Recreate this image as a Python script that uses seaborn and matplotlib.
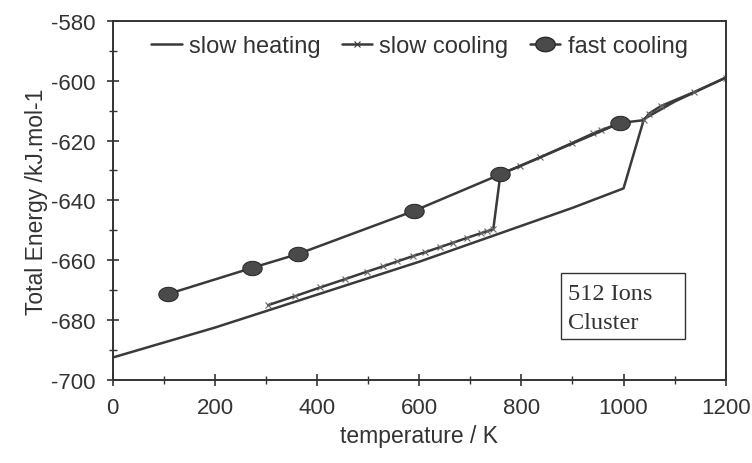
import numpy as np
import pandas as pd
import matplotlib
matplotlib.use("Agg")
import matplotlib.pyplot as plt
import matplotlib.ticker as mtick
from matplotlib.path import Path
from matplotlib.lines import Line2D
from matplotlib.patches import Rectangle
import seaborn as sns

# values
heat_T = [0, 100, 200, 300, 400, 500, 600, 700, 800, 900, 1000, 1040, 1100, 1200]
heat_E = [-692.5, -687.5, -682.5, -677.0, -671.5, -666.0, -660.5, -654.5,
          -648.5, -642.5, -636.0, -612.8, -607.0, -599.0]

cool_T = [304, 357, 406, 455, 498, 530, 557, 588, 612, 641, 667, 694, 720, 733, 745,
          759, 798, 837, 900, 941, 955, 995, 1040, 1050, 1073, 1137, 1200]
cool_E = [-675.0, -672.0, -669.1, -666.3, -663.8, -662.0, -660.4, -658.6, -657.3,
          -655.6, -654.1, -652.5, -651.0, -650.3, -649.6,
          -631.2, -628.5, -625.6, -620.8, -617.6, -616.6, -614.1, -613.2, -611.0,
          -608.5, -603.9, -599.0]

fast_T = [108, 272, 363, 590, 759, 994]
fast_E = [-671.3, -662.6, -657.9, -643.5, -631.3, -614.1]

heat = pd.DataFrame({"T": heat_T, "E": heat_E})
cool = pd.DataFrame({"T": cool_T, "E": cool_E})
fast = pd.DataFrame({"T": fast_T, "E": fast_E})

sns.set_style("white")
plt.rcParams["font.family"] = ["Liberation Sans", "DejaVu Sans"]
plt.rcParams["axes.unicode_minus"] = False

line_col = "#3a3a3a"
txt_col = "#333333"
t = np.linspace(0, 2 * np.pi, 40)
ellipse = Path(np.column_stack([1.35 * np.cos(t), np.sin(t)]))

fig = plt.figure(figsize=(7.52, 4.64), dpi=100)
ax = fig.add_axes([0.150, 0.179, 0.815, 0.774])

sns.lineplot(data=heat, x="T", y="E", ax=ax, sort=False, estimator=None,
             color=line_col, linewidth=1.8)
sns.lineplot(data=cool, x="T", y="E", ax=ax, sort=False, estimator=None,
             color=line_col, linewidth=1.8, marker="x", markersize=4,
             markeredgewidth=0.8, markeredgecolor="#666666")
sns.lineplot(data=fast, x="T", y="E", ax=ax, sort=False, estimator=None,
             color=line_col, linewidth=1.8, marker=ellipse, markersize=14,
             markerfacecolor="#4a4a4a", markeredgecolor="#2a2a2a")

ax.set_xlim(0, 1200)
ax.set_ylim(-700, -580)
ax.xaxis.set_major_locator(mtick.MultipleLocator(200))
ax.xaxis.set_minor_locator(mtick.MultipleLocator(100))
ax.yaxis.set_major_locator(mtick.MultipleLocator(20))
ax.yaxis.set_minor_locator(mtick.MultipleLocator(10))
ax.tick_params(which="major", direction="inout", length=9, width=1.2,
               color=txt_col, labelsize=16, labelcolor=txt_col, pad=8)
ax.tick_params(which="minor", direction="inout", length=6, width=1.0,
               color=txt_col)
ax.tick_params(axis="x", which="both", bottom=True)
ax.tick_params(axis="y", which="both", left=True)

for s in ax.spines.values():
    s.set_color(txt_col)
    s.set_linewidth(1.4)

ax.set_xlabel("temperature / K", fontsize=16.5, color=txt_col, labelpad=4)
ax.set_ylabel("Total Energy /kJ.mol-1", fontsize=16.5, color=txt_col, labelpad=2)

handles = [
    Line2D([], [], color=line_col, linewidth=1.8),
    Line2D([], [], color=line_col, linewidth=1.8, marker="x", markersize=4,
           markeredgewidth=0.8),
    Line2D([], [], color=line_col, linewidth=1.8, marker=ellipse, markersize=14,
           markerfacecolor="#4a4a4a", markeredgecolor="#2a2a2a"),
]
ax.legend(handles, ["slow heating", "slow cooling", "fast cooling"], ncol=3,
          loc="upper center", bbox_to_anchor=(0.5, 1.02), frameon=False,
          fontsize=17, handlelength=1.3, handletextpad=0.3, columnspacing=0.9,
          labelcolor=txt_col)

# annotation box
ax.add_patch(Rectangle((0.731, 0.114), 0.2023, 0.1838, transform=ax.transAxes,
                       facecolor="white", edgecolor=txt_col, linewidth=1.0,
                       zorder=4))
serif = ["Liberation Serif", "DejaVu Serif"]
ax.text(0.742, 0.2256, "512 Ions", transform=ax.transAxes, family=serif,
        fontsize=17.5, color=txt_col, va="baseline", ha="left", zorder=5)
ax.text(0.742, 0.1448, "Cluster", transform=ax.transAxes, family=serif,
        fontsize=17.5, color=txt_col, va="baseline", ha="left", zorder=5)

fig.savefig("out.png", dpi=100)
